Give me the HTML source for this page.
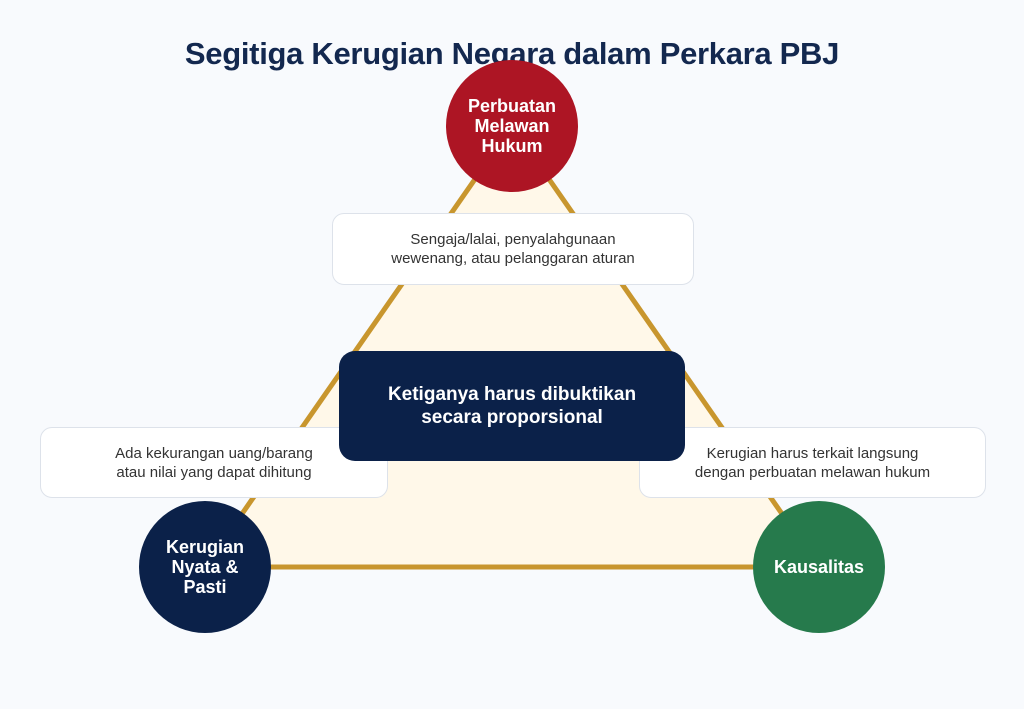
<!DOCTYPE html>
<html><head><style>
body{margin:0;width:1024px;height:709px;background:#f8fafd;position:relative;overflow:hidden;font-family:"Liberation Sans",sans-serif}
.t{position:absolute;left:0;width:1024px;top:36px;text-align:center;font-size:31px;font-weight:bold;color:#13284f;letter-spacing:-0.3px}
.c{position:absolute;width:132px;height:132px;border-radius:50%;color:#fff;font-weight:bold;font-size:18px;line-height:20px;display:flex;align-items:center;justify-content:center;text-align:center}
.b{position:absolute;background:#fff;border:1px solid #dde2ea;border-radius:12px;display:flex;align-items:center;justify-content:center;text-align:center;font-size:15px;line-height:19px;color:#333}
</style></head><body>
<svg width="1024" height="709" style="position:absolute;left:0;top:0">
<polygon points="512,126 205,567 819,567" fill="#fff8e9" stroke="#c8962e" stroke-width="5"/>
</svg>
<div class="t">Segitiga Kerugian Negara dalam Perkara PBJ</div>
<div class="c" style="left:446px;top:60px;background:#ad1524">Perbuatan<br>Melawan<br>Hukum</div>
<div class="c" style="left:139px;top:501px;background:#0b2149">Kerugian<br>Nyata &amp;<br>Pasti</div>
<div class="c" style="left:753px;top:501px;background:#267a4c">Kausalitas</div>
<div class="b" style="left:332px;top:213px;width:360px;height:70px">Sengaja/lalai, penyalahgunaan<br>wewenang, atau pelanggaran aturan</div>
<div class="b" style="left:40px;top:427px;width:346px;height:69px">Ada kekurangan uang/barang<br>atau nilai yang dapat dihitung</div>
<div class="b" style="left:639px;top:427px;width:345px;height:69px">Kerugian harus terkait langsung<br>dengan perbuatan melawan hukum</div>
<div style="position:absolute;left:339px;top:351px;width:346px;height:110px;background:#0b2149;border-radius:16px;color:#fff;font-weight:bold;font-size:19px;line-height:23px;display:flex;align-items:center;justify-content:center;text-align:center">Ketiganya harus dibuktikan<br>secara proporsional</div>
</body></html>
